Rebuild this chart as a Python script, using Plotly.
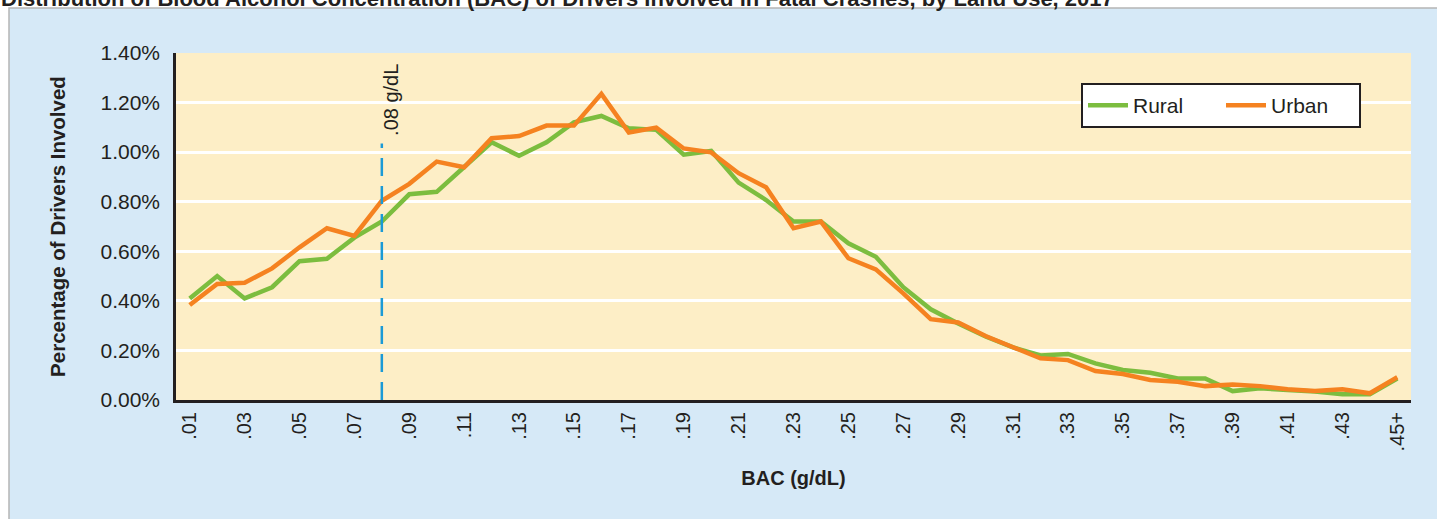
import plotly.graph_objects as go

categories = [".01", ".02", ".03", ".04", ".05", ".06", ".07", ".08", ".09", ".10",
              ".11", ".12", ".13", ".14", ".15", ".16", ".17", ".18", ".19", ".20",
              ".21", ".22", ".23", ".24", ".25", ".26", ".27", ".28", ".29", ".30",
              ".31", ".32", ".33", ".34", ".35", ".36", ".37", ".38", ".39", ".40",
              ".41", ".42", ".43", ".44", ".45+"]

rural = [0.41, 0.50, 0.41, 0.455, 0.56, 0.57, 0.655, 0.72, 0.83, 0.84,
         0.94, 1.04, 0.985, 1.04, 1.12, 1.146, 1.096, 1.09, 0.99, 1.005,
         0.877, 0.807, 0.72, 0.72, 0.632, 0.578, 0.455, 0.366, 0.309, 0.256,
         0.212, 0.18, 0.186, 0.148, 0.121, 0.11, 0.087, 0.087, 0.036, 0.047,
         0.04, 0.034, 0.023, 0.023, 0.087]

urban = [0.383, 0.468, 0.473, 0.531, 0.616, 0.693, 0.662, 0.804, 0.872, 0.962,
         0.939, 1.056, 1.065, 1.107, 1.107, 1.235, 1.079, 1.099, 1.015, 0.999,
         0.915, 0.858, 0.693, 0.72, 0.572, 0.527, 0.43, 0.326, 0.313, 0.258,
         0.213, 0.168, 0.161, 0.117, 0.105, 0.081, 0.074, 0.056, 0.063, 0.056,
         0.043, 0.036, 0.043, 0.027, 0.092]

y_ticks = [0.0, 0.2, 0.4, 0.6, 0.8, 1.0, 1.2, 1.4]
x_tick_labels = categories[::2]

title_text = "Distribution of Blood Alcohol Concentration (BAC) of Drivers Involved in Fatal Crashes, by Land Use, 2017"
legal_limit = ".08"

FONT = "Liberation Sans, Arial, Helvetica, sans-serif"
TXT = "#231f20"
GREEN = "#7cbd3f"
ORANGE = "#f58220"
CREAM = "#fdeec6"
BLUE_BG = "#d6e9f7"

W, H = 1437, 519
L, R, T, B = 176, 26, 53, 119
pw, ph = W - L - R, H - T - B

def px_x(x):
    return (x - L) / pw

def px_y(y):
    return (H - B - y) / ph

limit_idx = categories.index(legal_limit)

fig = go.Figure()
fig.add_trace(go.Scatter(x=categories, y=rural, mode="lines", name="Rural",
                         line=dict(color=GREEN, width=4.5)))
fig.add_trace(go.Scatter(x=categories, y=urban, mode="lines", name="Urban",
                         line=dict(color=ORANGE, width=4.5)))

# light-blue panel with grey frame
fig.add_shape(type="rect", xref="paper", yref="paper",
              x0=px_x(9), x1=px_x(W + 5), y0=px_y(H + 5), y1=px_y(8),
              fillcolor=BLUE_BG, line=dict(color="#b5b5b5", width=1.5), layer="below")
# cream plotting area
fig.add_shape(type="rect", xref="paper", yref="paper", x0=0, x1=1, y0=0, y1=1,
              fillcolor=CREAM, line=dict(width=0), layer="below")

fig.add_shape(type="line", xref="x", yref="y", x0=limit_idx, x1=limit_idx,
              y0=0, y1=1.035, line=dict(color="#1b9ad6", width=2.5, dash="18px,10px"))

fig.add_annotation(x=limit_idx, y=1.21, xref="x", yref="y", text=".08 g/dL",
                   textangle=-90, showarrow=False, xshift=9,
                   font=dict(family=FONT, size=20, color=TXT))

fig.add_annotation(x=px_x(-1), y=px_y(-2), xref="paper", yref="paper", text=title_text,
                   showarrow=False, xanchor="left", yanchor="middle",
                   font=dict(family=FONT, size=22, color=TXT, weight="bold"))

fig.update_layout(
    width=W, height=H,
    margin=dict(l=L, r=R, t=T, b=B),
    paper_bgcolor="white",
    plot_bgcolor=CREAM,
    font=dict(family=FONT, color=TXT),
    showlegend=True,
    legend=dict(orientation="h", x=px_x(1361), xanchor="right", y=px_y(83), yanchor="top",
                bgcolor="white", bordercolor="#231f20", borderwidth=2,
                font=dict(family=FONT, size=21, color=TXT),
                itemwidth=40, entrywidth=83, entrywidthmode="pixels"),
    xaxis=dict(type="category", range=[-0.5, len(categories) - 0.5],
               tickmode="array", tickvals=x_tick_labels, ticktext=x_tick_labels,
               tickangle=-90, tickfont=dict(family=FONT, size=20, color=TXT),
               showgrid=False, zeroline=False, showline=True, linecolor=TXT, linewidth=3,
               ticks="", ticklabelstandoff=1,
               title=dict(text="<b>BAC (g/dL)</b>", font=dict(family=FONT, size=20, color=TXT),
                          standoff=21)),
    yaxis=dict(range=[0, 1.4], tickmode="array", tickvals=y_ticks,
               ticktext=[f"{v:.2f}%" for v in y_ticks],
               tickfont=dict(family=FONT, size=21, color=TXT),
               showgrid=False, zeroline=False, showline=True, linecolor=TXT, linewidth=2.5,
               ticks="", ticklabelstandoff=9,
               minor=dict(tickmode="array", tickvals=y_ticks[1:-1], showgrid=True,
                          gridcolor="white", gridwidth=2.5, ticks=""),
               title=dict(text="<b>Percentage of Drivers Involved</b>",
                          font=dict(family=FONT, size=20.5, color=TXT), standoff=30)),
)

fig.write_html("out.html", config={"displayModeBar": False},
               post_script="document.body.style.margin='0';")
